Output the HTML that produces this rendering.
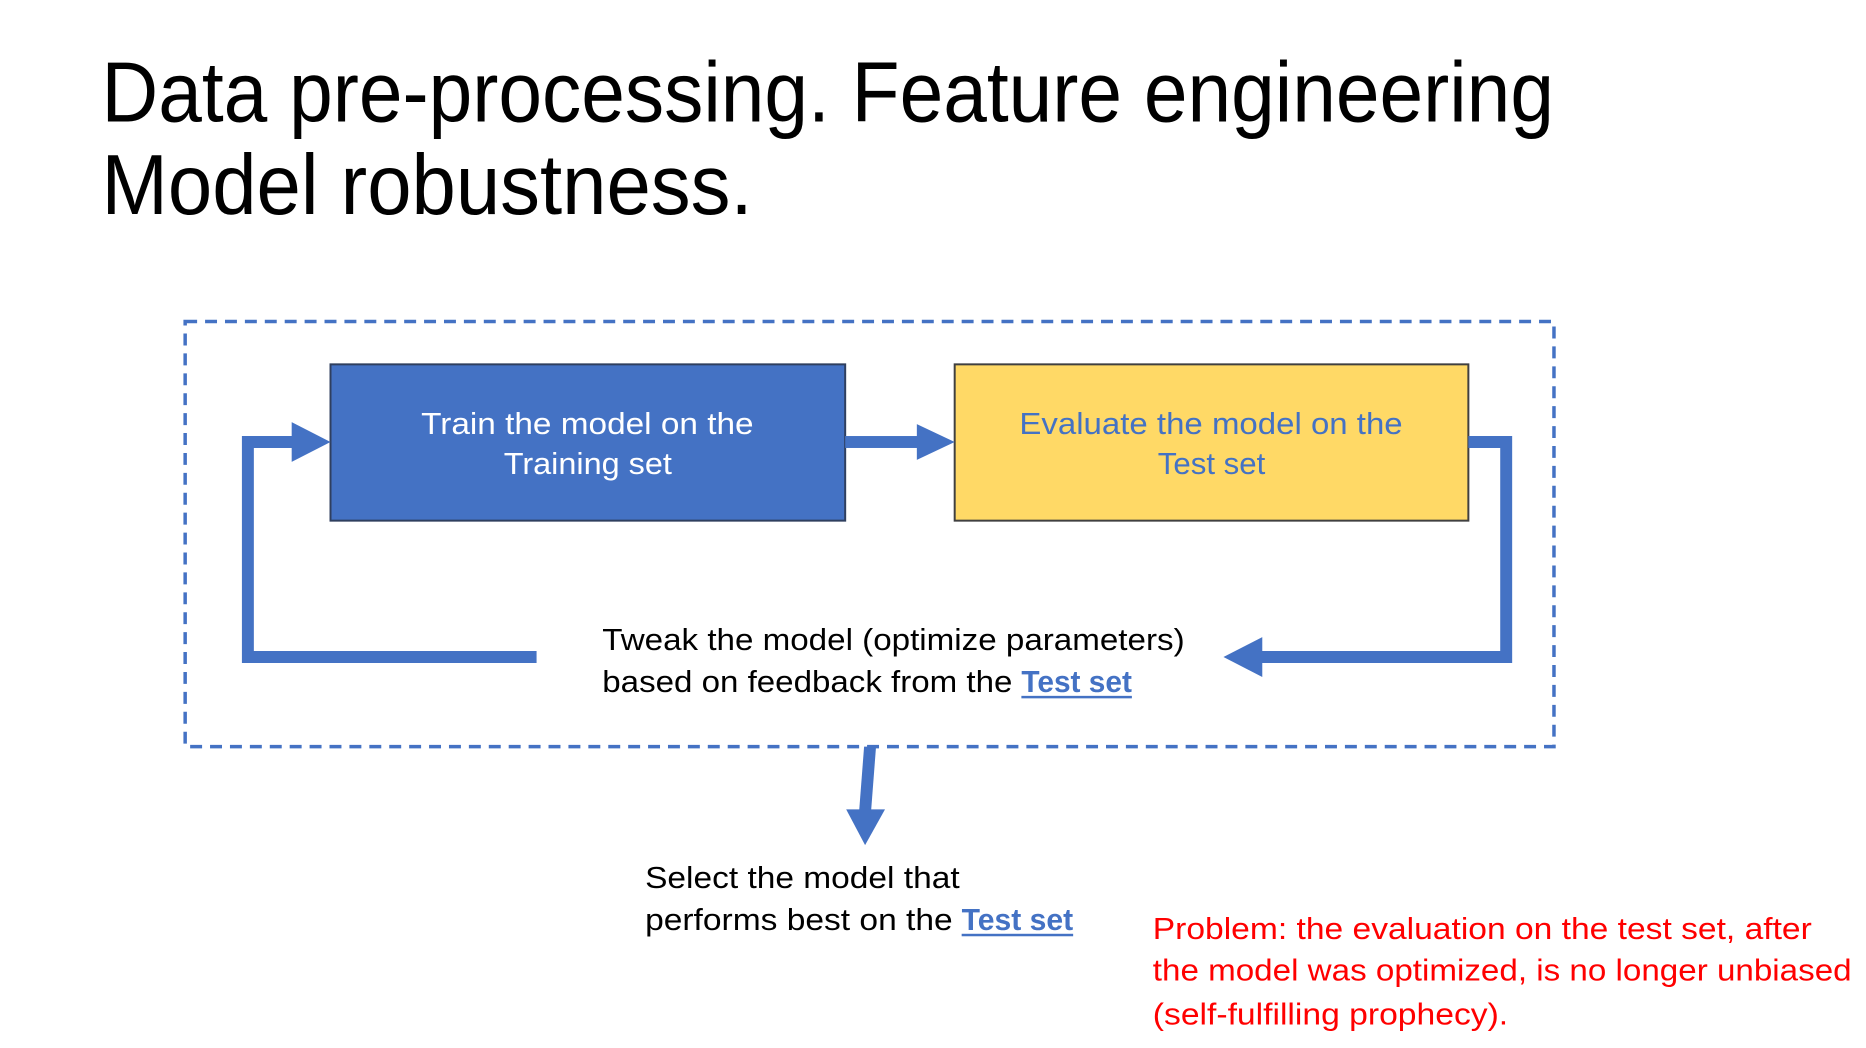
<!DOCTYPE html>
<html><head><meta charset="utf-8"><style>html,body{margin:0;padding:0;background:#fff}svg{display:block}</style></head>
<body>
<svg width="1866" height="1048" viewBox="0 0 1866 1048" xmlns="http://www.w3.org/2000/svg" font-family="Liberation Sans, sans-serif">
<rect width="1866" height="1048" fill="#fff"/>
<g transform="scale(0.9955)">
<g fill="#000" font-size="86">
<text x="102" y="122" textLength="1459" lengthAdjust="spacingAndGlyphs">Data pre-processing. Feature engineering</text>
<text x="102" y="215" textLength="654" lengthAdjust="spacingAndGlyphs">Model robustness.</text>
</g>
<rect x="186" y="323" width="1375" height="427" fill="none" stroke="#4472C4" stroke-width="3.5" stroke-dasharray="12,8"/>
<rect x="332" y="366" width="517" height="157" fill="#4472C4" stroke="#2F3F5F" stroke-width="2"/>
<rect x="959" y="366" width="516" height="157" fill="#FFD966" stroke="#404040" stroke-width="2"/>
<g font-size="31" text-anchor="start">
<text x="423" y="436" fill="#fff" textLength="334" lengthAdjust="spacingAndGlyphs">Train the model on the</text>
<text x="506" y="476" fill="#fff" textLength="169" lengthAdjust="spacingAndGlyphs">Training set</text>
<text x="1024" y="436" fill="#4472C4" textLength="385" lengthAdjust="spacingAndGlyphs">Evaluate the model on the</text>
<text x="1163" y="476" fill="#4472C4" textLength="108" lengthAdjust="spacingAndGlyphs">Test set</text>
</g>
<g fill="#4472C4" stroke="none">
<rect x="849" y="438" width="74" height="12"/>
<polygon points="921,426 959,444 921,462"/>
<polyline points="539,660 249,660 249,444 295,444" fill="none" stroke="#4472C4" stroke-width="12"/>
<polygon points="293,424 332,444 293,464"/>
<polyline points="1475,444 1513,444 1513,660 1266,660" fill="none" stroke="#4472C4" stroke-width="12"/>
<polygon points="1268,640 1229,660 1268,680"/>
<polygon points="868,750 880,750 875,815 863,815"/>
<polygon points="850,813 889,813 869,849"/>
</g>
<g font-size="31" fill="#000">
<text x="605" y="653" textLength="585" lengthAdjust="spacingAndGlyphs">Tweak the model (optimize parameters)</text>
<text x="605" y="695" textLength="412" lengthAdjust="spacingAndGlyphs">based on feedback from the</text>
<text x="1026" y="695" fill="#4472C4" font-weight="bold" textLength="111" lengthAdjust="spacingAndGlyphs">Test set</text>
<rect x="1026" y="699" width="111" height="2.5" fill="#4472C4"/>
<text x="648" y="892" textLength="316" lengthAdjust="spacingAndGlyphs">Select the model that</text>
<text x="648" y="934" textLength="309" lengthAdjust="spacingAndGlyphs">performs best on the</text>
<text x="966" y="934" fill="#4472C4" font-weight="bold" textLength="112" lengthAdjust="spacingAndGlyphs">Test set</text>
<rect x="966" y="938" width="112" height="2.5" fill="#4472C4"/>
</g>
<g font-size="31" fill="#FF0000">
<text x="1158" y="943" textLength="662" lengthAdjust="spacingAndGlyphs">Problem: the evaluation on the test set, after</text>
<text x="1158" y="985" textLength="702" lengthAdjust="spacingAndGlyphs">the model was optimized, is no longer unbiased</text>
<text x="1158" y="1029" textLength="357" lengthAdjust="spacingAndGlyphs">(self-fulfilling prophecy).</text>
</g>
</g>
</svg>
</body></html>
